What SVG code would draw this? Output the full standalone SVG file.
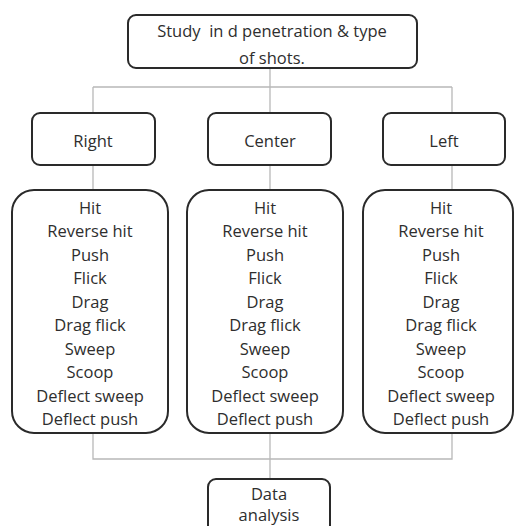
<svg xmlns="http://www.w3.org/2000/svg" width="515" height="526" viewBox="0 0 515 526">
<style>
.box{fill:#fff;stroke:#2a2a2a;stroke-width:2}
.con{fill:none;stroke:#b8b8b8;stroke-width:1.3}
text{font-family:"Open Sans","Liberation Sans",sans-serif;font-size:16.5px;fill:#2e2e2e;text-anchor:middle;dominant-baseline:central}
</style>
<rect width="515" height="526" fill="#fff"/>
<g id="connectors">
<path class="con" d="M270 68V87M93 87H452M93 87V113M270 87V113M452 87V113"/>
<path class="con" d="M93 165V190M270 165V190M452 165V190"/>
<path class="con" d="M93 433V459H452V433M270 433V479"/>
</g>
<g id="top"><rect class="box" x="128" y="15" width="289" height="53" rx="8"/>
<text x="272" y="30">Study&#160; in d penetration &amp; type</text><text x="272" y="57">of shots.</text></g>
<g id="right"><rect class="box" x="32" y="113" width="123" height="52" rx="8"/><text x="93" y="140">Right</text></g>
<g id="center"><rect class="box" x="208" y="113" width="123" height="52" rx="8"/><text x="270" y="140">Center</text></g>
<g id="left"><rect class="box" x="383" y="113" width="122" height="52" rx="8"/><text x="444" y="140">Left</text></g>
<g id="right-list"><rect class="box" x="12" y="190" width="156" height="243" rx="22"/>
<text x="90" y="207">Hit</text><text x="90" y="230.5">Reverse hit</text><text x="90" y="254">Push</text><text x="90" y="277.5">Flick</text><text x="90" y="301">Drag</text><text x="90" y="324.5">Drag flick</text><text x="90" y="348">Sweep</text><text x="90" y="371.5">Scoop</text><text x="90" y="395">Deflect sweep</text><text x="90" y="418.5">Deflect push</text></g>
<g id="center-list"><rect class="box" x="187" y="190" width="156" height="243" rx="22"/>
<text x="265" y="207">Hit</text><text x="265" y="230.5">Reverse hit</text><text x="265" y="254">Push</text><text x="265" y="277.5">Flick</text><text x="265" y="301">Drag</text><text x="265" y="324.5">Drag flick</text><text x="265" y="348">Sweep</text><text x="265" y="371.5">Scoop</text><text x="265" y="395">Deflect sweep</text><text x="265" y="418.5">Deflect push</text></g>
<g id="left-list"><rect class="box" x="363" y="190" width="150" height="243" rx="22"/>
<text x="441" y="207">Hit</text><text x="441" y="230.5">Reverse hit</text><text x="441" y="254">Push</text><text x="441" y="277.5">Flick</text><text x="441" y="301">Drag</text><text x="441" y="324.5">Drag flick</text><text x="441" y="348">Sweep</text><text x="441" y="371.5">Scoop</text><text x="441" y="395">Deflect sweep</text><text x="441" y="418.5">Deflect push</text></g>
<g id="data"><rect class="box" x="208" y="479" width="122" height="60" rx="8"/><text x="269" y="493">Data</text><text x="269" y="514">analysis</text></g>
</svg>
